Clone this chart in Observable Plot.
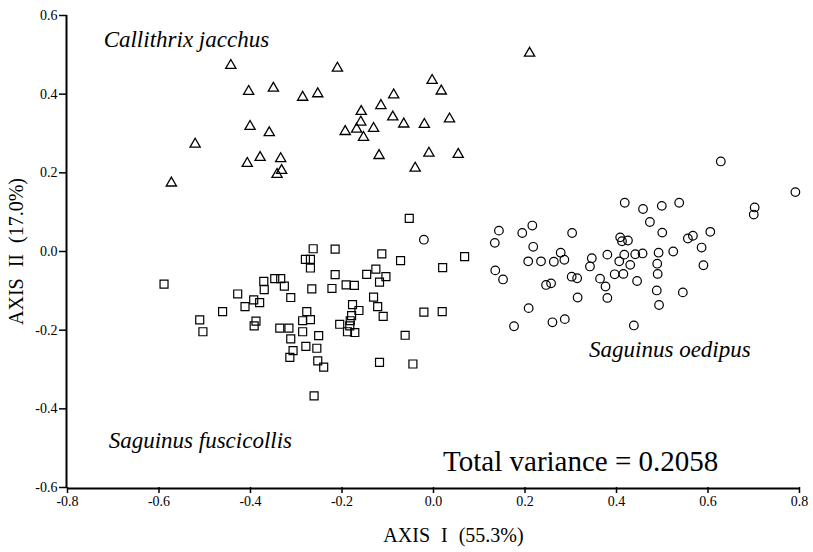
<!DOCTYPE html>
<html>
<head>
<meta charset="utf-8">
<script src="https://cdn.jsdelivr.net/npm/d3@7"></script>
<script src="https://cdn.jsdelivr.net/npm/@observablehq/plot@0.6"></script>
<style>
  html, body { margin: 0; padding: 0; background: #fff; }
  #chart { width: 813px; height: 552px; }
  .axlabel text { word-spacing: 6px; }
</style>
</head>
<body>
<div id="chart"></div>
<script>
// Callithrix jacchus (triangles): [AXIS I, AXIS II]
const callithrix = [
  [-0.443, 0.473], [-0.404, 0.407], [-0.350, 0.415], [-0.401, 0.318], [-0.359, 0.302],
  [-0.521, 0.273], [-0.407, 0.224], [-0.379, 0.239], [-0.334, 0.236], [-0.332, 0.206],
  [-0.342, 0.196], [-0.573, 0.174], [0.210, 0.504], [-0.210, 0.466], [-0.286, 0.392],
  [-0.253, 0.401], [-0.003, 0.435], [0.017, 0.408], [-0.087, 0.398], [-0.115, 0.371],
  [-0.158, 0.356], [-0.089, 0.342], [-0.065, 0.324], [-0.020, 0.323], [0.035, 0.337],
  [-0.159, 0.329], [-0.193, 0.305], [-0.168, 0.311], [-0.131, 0.313], [-0.153, 0.290],
  [-0.119, 0.244], [-0.010, 0.250], [0.054, 0.247], [-0.040, 0.212]
];
// Saguinus fuscicollis (squares)
const fuscicollis = [
  [-0.589, -0.083], [-0.263, 0.007], [-0.215, 0.006], [-0.280, -0.020], [-0.269, -0.020],
  [-0.269, -0.042], [-0.215, -0.059], [-0.371, -0.076], [-0.347, -0.069], [-0.334, -0.069],
  [-0.326, -0.088], [-0.370, -0.097], [-0.266, -0.095], [-0.222, -0.094], [-0.191, -0.085],
  [-0.173, -0.086], [-0.428, -0.108], [-0.393, -0.123], [-0.380, -0.130], [-0.412, -0.140],
  [-0.312, -0.117], [-0.461, -0.153], [-0.511, -0.174], [-0.504, -0.204], [-0.388, -0.177],
  [-0.392, -0.189], [-0.336, -0.195], [-0.316, -0.195], [-0.312, -0.222], [-0.286, -0.204],
  [-0.277, -0.153], [-0.286, -0.176], [-0.269, -0.173], [-0.251, -0.214], [-0.279, -0.241],
  [-0.255, -0.246], [-0.307, -0.252], [-0.314, -0.269], [-0.253, -0.278], [-0.240, -0.294],
  [-0.205, -0.185], [-0.188, -0.204], [-0.172, -0.206], [-0.183, -0.189], [-0.182, -0.176],
  [-0.179, -0.163], [-0.177, -0.135], [-0.163, -0.150], [-0.261, -0.367], [-0.053, 0.084],
  [-0.113, -0.006], [-0.072, -0.023], [0.068, -0.013], [0.020, -0.041], [-0.126, -0.045],
  [-0.146, -0.058], [-0.104, -0.064], [-0.118, -0.078], [-0.131, -0.116], [-0.122, -0.140],
  [-0.110, -0.165], [-0.021, -0.154], [0.019, -0.153], [-0.062, -0.213], [-0.118, -0.282],
  [-0.045, -0.286]
];
// Saguinus oedipus (circles)
const oedipus = [
  [-0.021, 0.030], [0.143, 0.053], [0.194, 0.047], [0.216, 0.066], [0.134, 0.022],
  [0.218, 0.012], [0.303, 0.047], [0.278, -0.003], [0.207, -0.025], [0.235, -0.025],
  [0.263, -0.026], [0.286, -0.021], [0.135, -0.048], [0.152, -0.071], [0.302, -0.064],
  [0.314, -0.068], [0.246, -0.085], [0.257, -0.081], [0.315, -0.117], [0.208, -0.144],
  [0.260, -0.180], [0.287, -0.172], [0.176, -0.190], [0.628, 0.229], [0.791, 0.151],
  [0.702, 0.112], [0.700, 0.094], [0.418, 0.124], [0.458, 0.108], [0.499, 0.116],
  [0.537, 0.124], [0.473, 0.075], [0.500, 0.048], [0.408, 0.036], [0.412, 0.026],
  [0.425, 0.028], [0.605, 0.050], [0.556, 0.033], [0.567, 0.040], [0.586, 0.010],
  [0.524, 0.000], [0.492, -0.003], [0.457, -0.005], [0.441, -0.007], [0.417, -0.008],
  [0.380, -0.008], [0.346, -0.017], [0.342, -0.038], [0.406, -0.025], [0.430, -0.034],
  [0.489, -0.031], [0.590, -0.035], [0.396, -0.058], [0.415, -0.057], [0.490, -0.057],
  [0.364, -0.069], [0.376, -0.089], [0.445, -0.075], [0.488, -0.099], [0.545, -0.104],
  [0.380, -0.118], [0.493, -0.136], [0.438, -0.188]
];
const xTicks = [-0.8, -0.6, -0.4, -0.2, 0.0, 0.2, 0.4, 0.6, 0.8];
const yTicks = [-0.6, -0.4, -0.2, 0.0, 0.2, 0.4, 0.6];
const speciesLabels = ["Callithrix jacchus", "Saguinus oedipus", "Saguinus fuscicollis"];
const speciesLabelAt = [[-0.721, 0.521], [0.340, -0.269], [-0.710, -0.500]];
const varianceText = "Total variance = 0.2058";
const xLabel = "AXIS I (55.3%)";
const yLabel = "AXIS II (17.0%)";

const fmt = d => (Math.abs(d) < 1e-9 ? 0 : d).toFixed(1);
const labels = speciesLabels.map((t, i) => ({t, x: speciesLabelAt[i][0], y: speciesLabelAt[i][1]}));

const chart = Plot.plot({
  width: 813,
  height: 552,
  marginLeft: 67,
  marginRight: 14,
  marginTop: 15,
  marginBottom: 65,
  style: {fontFamily: "'Liberation Serif', 'Times New Roman', serif", fontSize: "14px", background: "#fff", color: "#000"},
  x: {domain: [-0.8, 0.8]},
  y: {domain: [-0.6, 0.6]},
  marks: [
    Plot.axisX({ticks: xTicks, tickFormat: fmt, tickSize: 6, tickPadding: 3, strokeWidth: 1.5, label: null}),
    Plot.axisY({ticks: yTicks, tickFormat: fmt, tickSize: 8, tickPadding: 2, strokeWidth: 1.5, label: null}),
    Plot.ruleX([-0.8], {stroke: "#000", strokeWidth: 2, dx: -1}),
    Plot.ruleY([-0.6], {stroke: "#000", strokeWidth: 2, dy: 1}),
    Plot.dot(callithrix, {x: d => d[0], y: d => d[1], symbol: "triangle", r: 3.8, stroke: "#000", strokeWidth: 1.3, fill: "none"}),
    Plot.dot(fuscicollis, {x: d => d[0], y: d => d[1], symbol: "square", r: 4.5, stroke: "#000", strokeWidth: 1.2, fill: "none"}),
    Plot.dot(oedipus, {x: d => d[0], y: d => d[1], symbol: "circle", r: 4.3, stroke: "#000", strokeWidth: 1.2, fill: "none"}),
    Plot.text(labels, {x: "x", y: "y", text: "t", textAnchor: "start", lineAnchor: "bottom", fontSize: 23, fontStyle: "italic", fill: "#000"}),
    Plot.text([varianceText], {x: 0.021, y: -0.559, text: d => d, textAnchor: "start", lineAnchor: "bottom", fontSize: 29, fill: "#000"}),
    Plot.text([xLabel], {frameAnchor: "bottom", dx: 20, dy: 48, text: d => d, fontSize: 20, fill: "#000", textAnchor: "middle", lineAnchor: "middle", className: "axlabel"}),
    Plot.text([yLabel], {frameAnchor: "left", dx: -51, text: d => d, rotate: -90, fontSize: 20, fill: "#000", textAnchor: "middle", lineAnchor: "middle", className: "axlabel"})
  ]
});
document.getElementById("chart").appendChild(chart);
</script>
</body>
</html>
